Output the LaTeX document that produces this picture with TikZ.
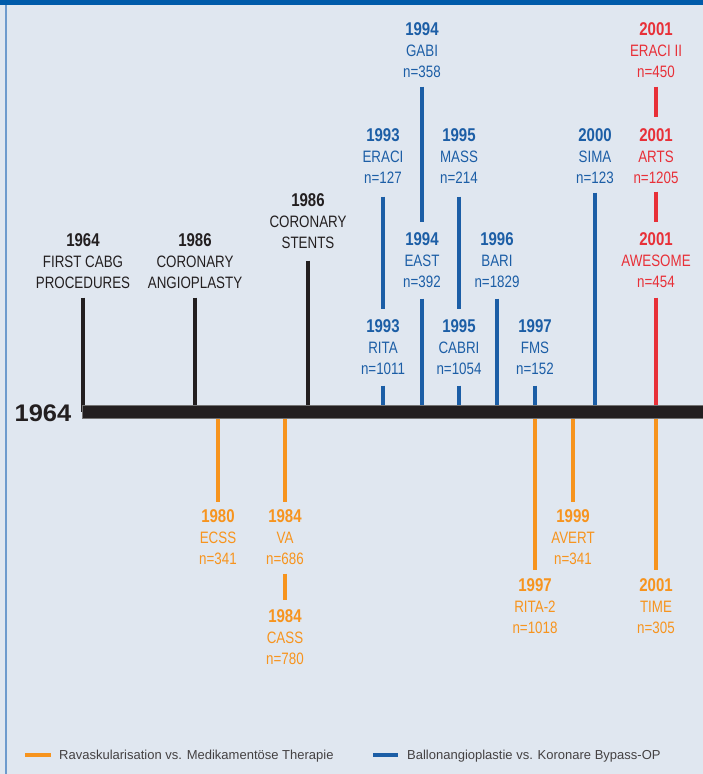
\documentclass[tikz,border=0pt]{standalone}
\usepackage{fontspec}
\setmainfont{Liberation Sans}[FakeStretch=0.81]
\newfontfamily\widefont{Liberation Sans}[FakeStretch=1.06]
\newfontfamily\legendfont{Liberation Sans}

\definecolor{pagebg}{RGB}{224,231,240}
\definecolor{framebar}{RGB}{0,91,170}
\definecolor{frameline}{RGB}{110,155,205}
\definecolor{trialblue}{RGB}{28,94,166}
\definecolor{trialred}{RGB}{232,48,56}
\definecolor{trialorange}{RGB}{247,148,30}
\definecolor{inkblack}{RGB}{35,31,32}

% three-line study label: year / name / sample size
\newcommand\trial[3]{{\bfseries\fontsize{18.5}{21}\selectfont #1}\\#2\\n=#3}
% three-line milestone label: year / two text lines
\newcommand\milestone[3]{{\bfseries\fontsize{18.5}{21}\selectfont #1}\\#2\\#3}

\begin{document}
\begin{tikzpicture}[x=1pt,y=-1pt,
  label base/.style={align=center, inner sep=0pt,
    font=\fontsize{16.5}{21}\selectfont},
  bluelabel/.style={label base, text=trialblue},
  redlabel/.style={label base, text=trialred},
  orangelabel/.style={label base, text=trialorange},
  blacklabel/.style={label base, text=inkblack},
  bluetick/.style={draw=trialblue, line width=4pt},
  redtick/.style={draw=trialred, line width=4pt},
  orangetick/.style={draw=trialorange, line width=4pt},
  blacktick/.style={draw=inkblack, line width=3.5pt},
  legendtext/.style={anchor=base west, inner sep=0pt,
    font=\legendfont\fontsize{13}{15}\selectfont, text=inkblack!85},
]
% page and frame
\fill[pagebg] (0,0) rectangle (703,774);
\useasboundingbox (0,0) rectangle (703,774);
\fill[framebar] (0,0) rectangle (703,5);
\draw[frameline, line width=1.2pt] (6,5) -- (6,774);

% timeline axis
\coordinate (barW) at (82,411.5);
\coordinate (barNW) at (82,405);
\coordinate (barSE) at (704,418);
\node[inner sep=0pt, text=inkblack, font=\widefont\bfseries\fontsize{24}{24}\selectfont]
  (start) at (43,413) {1964};

% milestones above the axis
\node[blacklabel] (cabg)   at (83,261)  {\milestone{1964}{FIRST CABG}{PROCEDURES}};
\node[blacklabel] (ptca)   at (195,261) {\milestone{1986}{CORONARY}{ANGIOPLASTY}};
\node[blacklabel] (stents) at (308,221) {\milestone{1986}{CORONARY}{STENTS}};

% angioplasty vs. bypass trials
\node[bluelabel] (gabi)  at (422,50)  {\trial{1994}{GABI}{358}};
\node[bluelabel] (eraci) at (383,156) {\trial{1993}{ERACI}{127}};
\node[bluelabel] (mass)  at (459,156) {\trial{1995}{MASS}{214}};
\node[bluelabel] (sima)  at (595,156) {\trial{2000}{SIMA}{123}};
\node[bluelabel] (east)  at (422,260) {\trial{1994}{EAST}{392}};
\node[bluelabel] (bari)  at (497,260) {\trial{1996}{BARI}{1829}};
\node[bluelabel] (rita)  at (383,347) {\trial{1993}{RITA}{1011}};
\node[bluelabel] (cabri) at (459,347) {\trial{1995}{CABRI}{1054}};
\node[bluelabel] (fms)   at (535,347) {\trial{1997}{FMS}{152}};

% stent vs. bypass trials
\node[redlabel] (eracii)  at (656,50)  {\trial{2001}{ERACI II}{450}};
\node[redlabel] (arts)    at (656,156) {\trial{2001}{ARTS}{1205}};
\node[redlabel] (awesome) at (656,260) {\trial{2001}{AWESOME}{454}};

% revascularisation vs. medical therapy trials
\node[orangelabel] (ecss)  at (218,537) {\trial{1980}{ECSS}{341}};
\node[orangelabel] (va)    at (285,537) {\trial{1984}{VA}{686}};
\node[orangelabel] (cass)  at (285,637) {\trial{1984}{CASS}{780}};
\node[orangelabel] (avert) at (573,537) {\trial{1999}{AVERT}{341}};
\node[orangelabel] (rita2) at (535,606) {\trial{1997}{RITA-2}{1018}};
\node[orangelabel] (time)  at (656,606) {\trial{2001}{TIME}{305}};

% connectors (drawn before the axis so they tuck under it)
\draw[blacktick, shorten <=9pt]  (cabg.south)   -- (cabg.south |- barW);
\draw[blacktick, shorten <=9pt]  (ptca.south)   -- (ptca.south |- barW);
\draw[blacktick, shorten <=12pt] (stents.south) -- (stents.south |- barW);

\draw[bluetick, shorten <=9pt, shorten >=10.5pt]  (gabi.south)  -- (east.north);
\draw[bluetick, shorten <=13pt, shorten >=10.5pt] (eraci.south) -- (rita.north);
\draw[bluetick, shorten <=13pt, shorten >=10.5pt] (mass.south)  -- (cabri.north);
\draw[bluetick, shorten <=11pt] (east.south)  -- (east.south |- barW);
\draw[bluetick, shorten <=11pt] (bari.south)  -- (bari.south |- barW);
\draw[bluetick, shorten <=11pt] (rita.south)  -- (rita.south |- barW);
\draw[bluetick, shorten <=11pt] (cabri.south) -- (cabri.south |- barW);
\draw[bluetick, shorten <=11pt] (fms.south)   -- (fms.south |- barW);
\draw[bluetick, shorten <=9pt]  (sima.south)  -- (sima.south |- barW);

\draw[redtick, shorten <=9pt, shorten >=11.5pt] (eracii.south) -- (arts.north);
\draw[redtick, shorten <=8pt, shorten >=10.5pt] (arts.south)   -- (awesome.north);
\draw[redtick, shorten <=10pt] (awesome.south) -- (awesome.south |- barW);

\draw[orangetick, shorten >=7.5pt] (ecss.north |- barW)  -- (ecss.north);
\draw[orangetick, shorten >=7.5pt] (va.north |- barW)    -- (va.north);
\draw[orangetick, shorten >=7.5pt] (avert.north |- barW) -- (avert.north);
\draw[orangetick, shorten >=8.5pt] (rita2.north |- barW) -- (rita2.north);
\draw[orangetick, shorten >=8.5pt] (time.north |- barW)  -- (time.north);
\draw[orangetick, shorten <=9pt, shorten >=9.5pt] (va.south) -- (cass.north);

% the axis itself
\fill[inkblack, draw=black!55, line width=0.6pt] (barNW) rectangle (barSE);

% legend
\draw[trialorange, line width=4pt] (25,755) -- (51,755);
\node[legendtext] (legA) at (59,759.5) {Ravaskularisation vs. Medikamentöse Therapie};
\draw[trialblue, line width=4pt] (373,755) -- (398,755);
\node[legendtext] (legB) at (407,759.5) {Ballonangioplastie vs. Koronare Bypass-OP};
\end{tikzpicture}
\end{document}
